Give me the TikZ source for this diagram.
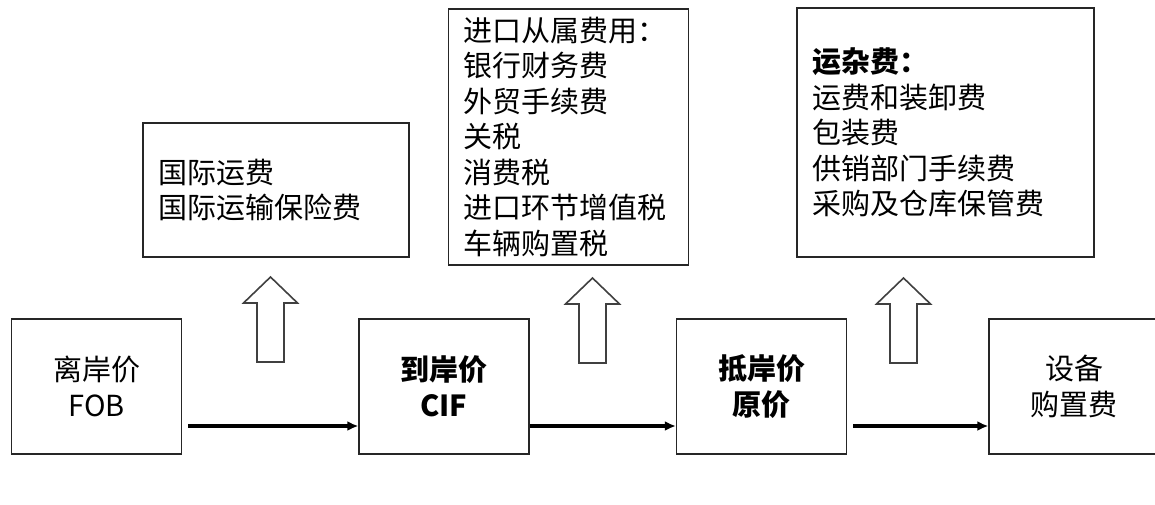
\documentclass[tikz,border=0pt]{standalone}
\usepackage{fontspec}
\setmainfont{Noto Sans CJK SC}
\usetikzlibrary{arrows.meta}
\begin{document}
\begin{tikzpicture}[x=1pt, y=-1pt, thick]
				\tikzset{pricebox/.style={rectangle, draw=black!85, line width=1.3pt, minimum width=170pt, minimum height=135pt, align=center, inner sep=0pt, font=\fontsize{29}{36}\selectfont}}
				\tikzset{feebox/.style={rectangle, draw=black!85, line width=1.3pt, align=left, inner xsep=15pt, inner ysep=0pt, font=\fontsize{29}{35.5}\selectfont}}
				\tikzset{flow/.style={-{Latex[length=11pt,width=10pt]}, line width=3.6pt, black, shorten <=6pt}}
				\tikzset{pics/fatup/.style={code={\draw[line width=1.6pt, draw=black!75, fill=white] (-13.5,0) -- (-13.5,-59) -- (-27,-59) -- (0,-85) -- (27,-59) -- (13.5,-59) -- (13.5,0) -- cycle;}}}
				\useasboundingbox (0,0) rectangle (1155,505);
				
				\node[pricebox] (Price-FOB) at (96.5,386.5) {离岸价\\FOB};
				\node[pricebox] (Price-CIF) at (444,386.5) {\bfseries 到岸价\\\bfseries CIF};
				\node[pricebox] (Price-Land) at (761.5,386.5) {\bfseries 抵岸价\\\bfseries 原价};
				\node[pricebox] (Price-Equip) at (1074,386.5) {设备\\购置费};
				
				\node[feebox, text width=236pt, minimum height=134pt] (Fee-Intl) at (276,190) {国际运费\\国际运输保险费};
				\node[feebox, text width=210pt, minimum height=256pt] (Fee-Import) at (568.5,137) {进口从属费用：\\银行财务费\\外贸手续费\\关税\\消费税\\进口环节增值税\\车辆购置税};
				\node[feebox, text width=267pt, minimum height=249pt] (Fee-Misc) at (945.5,132.5) {\textbf{运杂费：}\\运费和装卸费\\包装费\\供销部门手续费\\采购及仓库保管费};
				
				\coordinate (Up-1) at (270.5,362);
				\coordinate (Up-2) at (592.5,363);
				\coordinate (Up-3) at (903.5,363);
				\pic at (Up-1) {fatup};
				\pic at (Up-2) {fatup};
				\pic at (Up-3) {fatup};
				
				\draw[flow] (Price-FOB.east |- 0,426) -- (Price-CIF.west |- 0,426);
				\draw[flow, shorten <=0pt] (Price-CIF.east |- 0,426) -- (Price-Land.west |- 0,426);
				\draw[flow] (Price-Land.east |- 0,426) -- (Price-Equip.west |- 0,426);
\end{tikzpicture}
\end{document}
